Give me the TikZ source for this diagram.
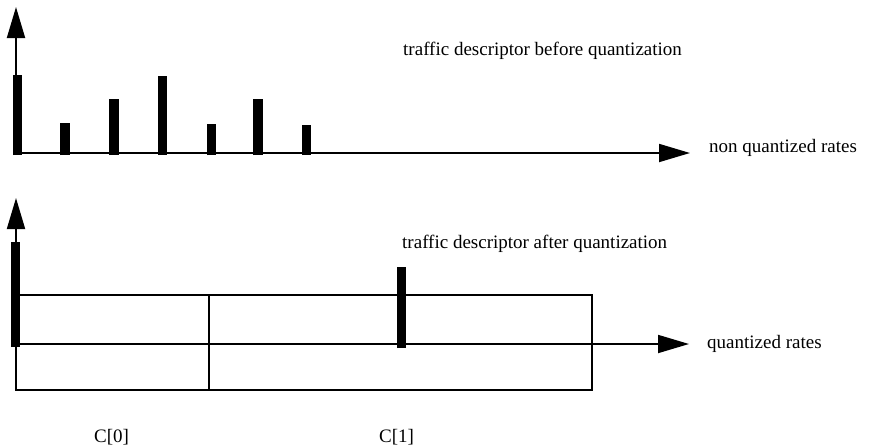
\documentclass[tikz,border=0pt]{standalone}
\usepackage{fontspec}
\setmainfont{Liberation Serif}
\usetikzlibrary{arrows.meta}
\begin{document}
\begin{tikzpicture}[x=1pt,y=-1pt,
  axis/.style={line width=1.8pt,-{Triangle[length=31pt,width=18pt]}},
  frame/.style={line width=1.5pt},
  rate/.style={line width=9.5pt},
  lbl/.style={anchor=base west,inner sep=0pt,font=\fontsize{19}{23}\selectfont}]
\useasboundingbox (0,0) rectangle (874,447);

% ---- rates before quantization ----
\coordinate (o1) at (16,153);
\coordinate (y1) at (16,7);
\coordinate (x1) at (690,153);
\draw[axis] (o1) -- (y1);
\draw[axis] (o1) -- (x1);
\foreach \x/\h in {17.5/75, 65/123, 114/99, 162.5/76, 211.5/124, 258/99, 306.5/125}
  \draw[rate] (\x,155) -- (\x,\h);
\node[lbl] (tb) at (403,55) {traffic descriptor before quantization};
\node[lbl] (nq) at (709,152) {non quantized rates};

% ---- rates after quantization ----
\coordinate (o2) at (16,344);
\coordinate (b2) at (16,390);
\coordinate (y2) at (16,198);
\coordinate (x2) at (689,344);
\draw[frame] (16,295) rectangle (592,390);
\draw[frame] (209,295) -- (209,390);
\draw[axis] (b2) -- (y2);
\draw[axis] (o2) -- (x2);
\draw[rate] (15.5,347) -- (15.5,242);
\draw[rate] (401.5,348) -- (401.5,267);
\node[lbl] (ta) at (402,248) {traffic descriptor after quantization};
\node[lbl] (qr) at (707,348) {quantized rates};
\node[lbl] (c0) at (94,442) {C[0]};
\node[lbl] (c1) at (379,442) {C[1]};
\end{tikzpicture}
\end{document}
